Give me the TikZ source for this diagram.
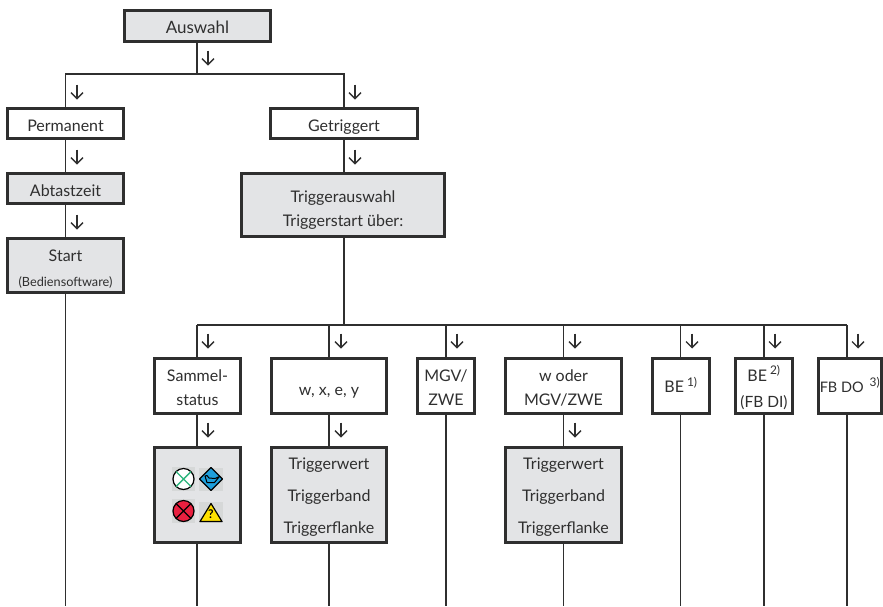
\documentclass[tikz,border=0pt]{standalone}
\usepackage{fontspec}
\setmainfont{Lato}
\usetikzlibrary{arrows.meta}
\definecolor{boxgrey}{HTML}{E3E4E6}
\definecolor{icongrey}{HTML}{D6D8D8}
\definecolor{ink}{HTML}{2F2F2F}
\definecolor{okgreen}{HTML}{2DB57C}
\definecolor{failred}{HTML}{E8203F}
\definecolor{oilblue}{HTML}{1E9FDC}
\definecolor{warnyellow}{HTML}{FFE100}
\tikzset{
  x=1pt,y=-1pt,
  base/.style={draw=ink,line width=3pt,inner sep=0pt,outer sep=0pt,align=center,text=ink,font=\fontsize{16}{24}\selectfont},
  plain/.style={base,fill=white},
  shaded/.style={base,fill=boxgrey},
  conn/.style={draw=ink,line width=1.4pt},
  tick/.style={draw=ink,line width=1.3pt,-{Straight Barb[length=6pt,width=12pt,line width=1.3pt]}},
  dirarrow/.pic={\draw[tick] (0,-7.5) -- (0,7.5);}
}
\newcommand{\bx}[7]{\node[#1,minimum width=#5-#4-3,minimum height=#7-#6-3] (#2) at ({(#4+#5)/2},{(#6+#7)/2}) {#3};}
% vertical struts: \up{T} sets the height above the first baseline, \dn the depth below the last
\newcommand{\up}[1]{\rule{0pt}{#1pt}}
\newcommand{\dn}{\rule[-3pt]{0pt}{3pt}}
\newcommand{\note}[1]{\hspace{3pt}{\fontsize{17}{17}\selectfont\textsuperscript{#1}}}
\begin{document}
\begin{tikzpicture}
\useasboundingbox (0,0) rectangle (883,606);
\fill[white] (0,0) rectangle (883,606);
% junctions and free ends
\coordinate (jtop) at (197,74);
\coordinate (jl) at (65.5,74);
\coordinate (jr) at (344,74);
\coordinate (tc) at (344,325);
\coordinate (t1) at (197,325);
\coordinate (t2) at (329,325);
\coordinate (t3) at (446,325);
\coordinate (t4) at (563.5,325);
\coordinate (t5) at (680.5,325);
\coordinate (t6) at (764,325);
\coordinate (t7) at (847,325);
\foreach \n/\xx in {e0/65.5,e1/197,e2/329,e3/446,e4/563.5,e5/680.5,e6/764,e7/847}
  \coordinate (\n) at (\xx,606);
% boxes
\bx{shaded}{auswahl}{\up{18}{\fontsize{17}{24}\selectfont Auswahl}\dn}{123}{272}{9}{43}
\bx{plain}{perm}{\up{18}Permanent\dn}{6}{125}{107}{140}
\bx{plain}{getr}{\up{18}Getriggert\dn}{269}{419}{107}{140}
\bx{shaded}{abt}{\up{18}Abtastzeit\dn}{6}{125}{172}{205}
\bx{shaded}{start}{\up{19.7}Start\\[0.7pt]{\fontsize{12.7}{14}\selectfont (Bediensoftware)}\dn}{6}{125}{237}{294}
\bx{shaded}{ausw}{\up{22}Triggerauswahl\\Triggerstart über:\dn}{240}{446}{172}{238}
\bx{plain}{samm}{\up{17}Sammel-\\status\dn}{153}{242}{357}{415}
\bx{plain}{wxey}{\up{21}w, x, e, y\dn}{270}{388}{357}{415}
\bx{plain}{mgv}{\up{17}MGV/\\ZWE\dn}{416}{476}{357}{415}
\bx{plain}{woder}{\up{17}w oder\\MGV/ZWE\dn}{504}{623}{357}{415}
\bx{plain}{beone}{\up{16}BE\note{1)}\dn}{651}{711}{357}{415}
\bx{plain}{betwo}{\up{19}BE\note{2)}\\[2pt]{\fontsize{15.5}{24}\selectfont (FB DI)}\dn}{734}{794}{357}{415}
\bx{plain}{fbdo}{\up{16}{\fontsize{14.5}{24}\selectfont FB DO}\hspace{3pt}\note{3)}\dn}{817}{883}{357}{415}
\bx{shaded}{icons}{}{153}{242}{446}{544}
\bx{shaded}{twa}{\up{16}Triggerwert\\[8pt]Triggerband\\[8pt]Triggerflanke\dn}{270}{388}{446}{544}
\bx{shaded}{twb}{\up{16}Triggerwert\\[8pt]Triggerband\\[8pt]Triggerflanke\dn}{504}{623}{446}{544}
% connectors
\draw[conn] (jtop |- auswahl.south) -- (jtop);
\draw[conn] (jl |- perm.north) -- (jl) -- (jr) -- (jr |- getr.north);
\draw[conn] (jl |- perm.south) -- (jl |- abt.north);
\draw[conn] (jl |- abt.south) -- (jl |- start.north);
\draw[conn] (jl |- start.south) -- (e0);
\draw[conn] (jr |- getr.south) -- (jr |- ausw.north);
\draw[conn] (tc |- ausw.south) -- (tc);
\draw[conn] (t1) -- (t7);
\draw[conn] (t1) -- (t1 |- samm.north);
\draw[conn] (t2) -- (t2 |- wxey.north);
\draw[conn] (t3) -- (t3 |- mgv.north);
\draw[conn] (t4) -- (t4 |- woder.north);
\draw[conn] (t5) -- (t5 |- beone.north);
\draw[conn] (t6) -- (t6 |- betwo.north);
\draw[conn] (t7) -- (t7 |- fbdo.north);
\draw[conn] (t1 |- samm.south) -- (t1 |- icons.north);
\draw[conn] (t2 |- wxey.south) -- (t2 |- twa.north);
\draw[conn] (t4 |- woder.south) -- (t4 |- twb.north);
\draw[conn] (t1 |- icons.south) -- (e1);
\draw[conn] (t2 |- twa.south) -- (e2);
\draw[conn] (t3 |- mgv.south) -- (e3);
\draw[conn] (t4 |- twb.south) -- (e4);
\draw[conn] (t5 |- beone.south) -- (e5);
\draw[conn] (t6 |- betwo.south) -- (e6);
\draw[conn] (t7 |- fbdo.south) -- (e7);
% direction arrows
\foreach \p in {(208,58),(77,92),(355,92),(77,157),(355,157),(77,222),
  (208,341),(341,341),(457,341),(575,341),(692,341),(775,341),(858,341),
  (208,430),(341,430),(575,430)}
  \path \p pic {dirarrow};
% status icons
\fill[icongrey] (172,467) rectangle (195,491);
\fill[icongrey] (199,467.5) rectangle (223,490.5);
\fill[icongrey] (172,499) rectangle (195,523);
\fill[icongrey] (199,502) rectangle (223,523);
\draw[line width=1.2pt,draw=black,fill=white] (183.5,479) circle (10.5);
\draw[line width=1.4pt,draw=okgreen] (176,471.5) -- (191,486.5) (176,486.5) -- (191,471.5);
\draw[line width=1.2pt,draw=black,fill=failred] (183.5,511) circle (10.5);
\draw[line width=1.3pt,draw=black] (176,503.5) -- (191,518.5) (176,518.5) -- (191,503.5);
\draw[line width=1.2pt,draw=black,fill=oilblue,line join=round] (211,467.5) -- (222.5,479) -- (211,490.5) -- (199.5,479) -- cycle;
\draw[line width=1pt,draw=black,line join=round] (205,476) -- (207,475.5) -- (209,478) -- (215,478.5) -- (219.5,476.5) -- (214.5,482.5) -- (207,482.5) -- cycle;
\draw[line width=1.2pt,draw=black,fill=warnyellow,line join=round] (211,503.5) -- (222,521.5) -- (200,521.5) -- cycle;
\node[inner sep=0pt,font=\fontsize{12}{12}\selectfont\bfseries] (q) at (211,514.5) {?};
\end{tikzpicture}
\end{document}
